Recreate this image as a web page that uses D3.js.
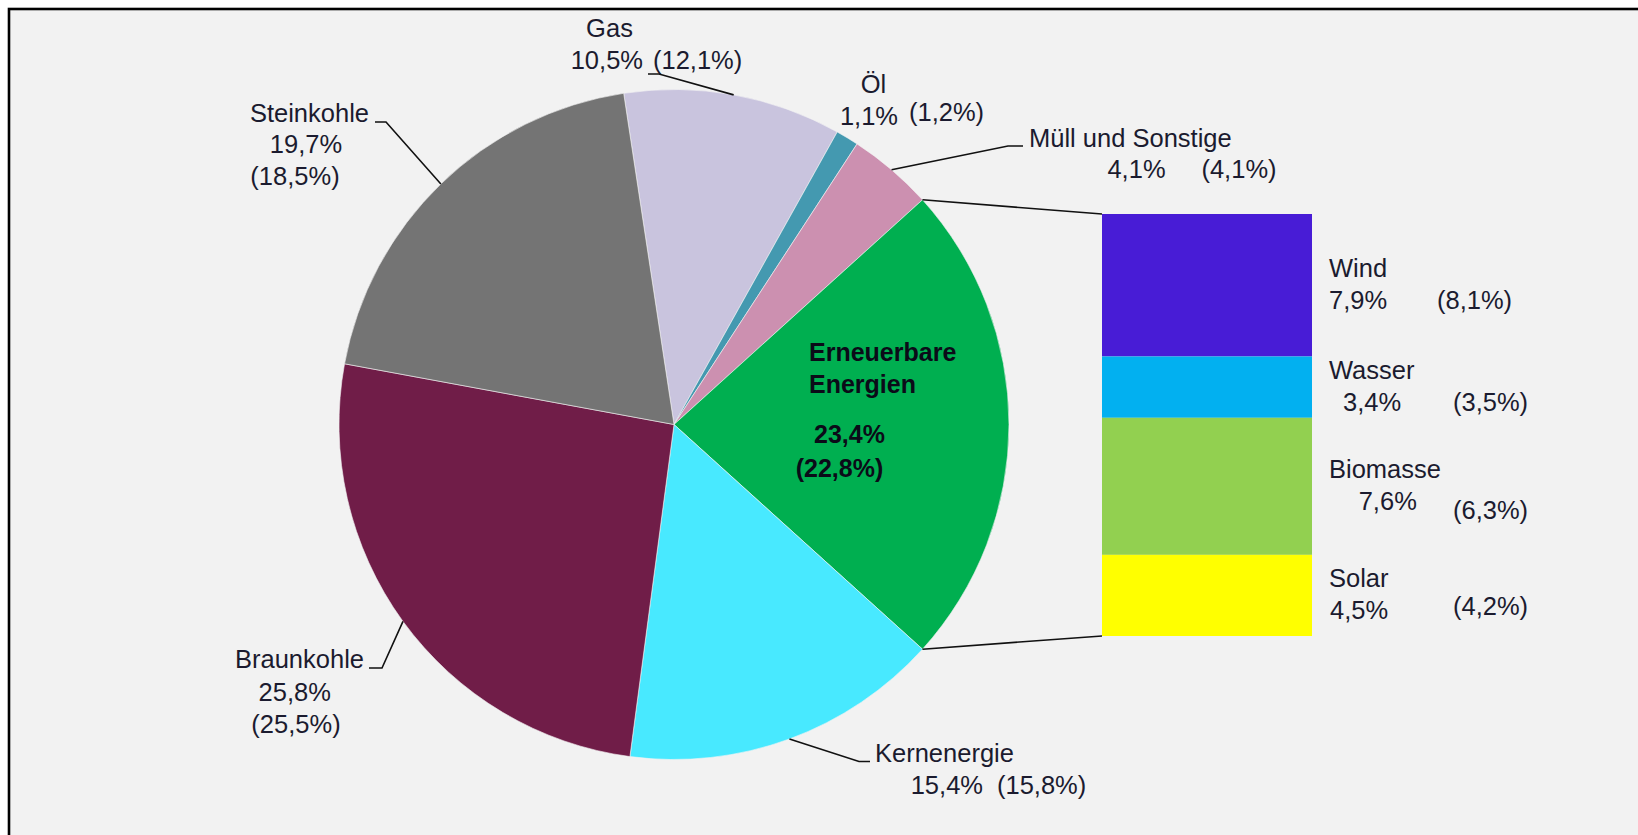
<!DOCTYPE html>
<html>
<head>
<meta charset="utf-8">
<script src="https://cdn.jsdelivr.net/npm/d3@7"></script>
<style>
  html, body { margin: 0; padding: 0; background: #ffffff; }
  svg { display: block; }
  text { font-family: "Liberation Sans", Arial, sans-serif; fill: #1b1b2f; }
</style>
</head>
<body>
<svg id="chart" width="1638" height="835"></svg>
<script>
// ---------------- DATA ----------------
const categories = ["Gas", "Öl", "Müll und Sonstige", "Erneuerbare Energien", "Kernenergie", "Braunkohle", "Steinkohle"];
const shares     = [10.5, 1.1, 4.1, 23.4, 15.4, 25.8, 19.7];
const prevShares = [12.1, 1.2, 4.1, 22.8, 15.8, 25.5, 18.5];
const sliceColors = ["#C9C4DE", "#4499B0", "#CC90B0", "#00AF50", "#48E9FF", "#701D48", "#747474"];

const renewables      = ["Wind", "Wasser", "Biomasse", "Solar"];
const renewShares     = [7.9, 3.4, 7.6, 4.5];
const renewPrevShares = [8.1, 3.5, 6.3, 4.2];
const renewColors     = ["#481CD6", "#02B0F0", "#92D050", "#FFFF00"];

const fmt = v => d3.format(".1f")(v).replace(".", ",") + "%";

// ---------------- LAYOUT ----------------
const W = 1638, H = 835;
const cx = 674, cy = 424.5, R = 335;
const barX0 = 1102, barX1 = 1312, barY0 = 214, barY1 = 636;
const FS = 25.5;

const svg = d3.select("#chart");

// frame
svg.append("rect").attr("x", 9).attr("y", 9).attr("width", W + 20).attr("height", H + 20)
  .attr("fill", "#F2F2F2").attr("stroke", "#000").attr("stroke-width", 2.6);

// pie
const expIdx = categories.indexOf("Erneuerbare Energien");
const total = d3.sum(shares);
const before = d3.sum(shares.slice(0, expIdx)) + shares[expIdx] / 2;
const startAngle = Math.PI / 2 - 2 * Math.PI * before / total;

const pie = d3.pie().sort(null).value(d => d).startAngle(startAngle).endAngle(startAngle + 2 * Math.PI);
const arcs = pie(shares);
const arc = d3.arc().innerRadius(0).outerRadius(R);

const g = svg.append("g").attr("transform", `translate(${cx},${cy})`);
g.selectAll("path").data(arcs).join("path")
  .attr("d", arc)
  .attr("fill", (d, i) => sliceColors[i])
  .attr("stroke", "#f4f4f4").attr("stroke-width", 0.6);

const polar = (a, r) => [cx + r * Math.sin(a), cy - r * Math.cos(a)];

// stacked renewables bar
const yBar = d3.scaleLinear().domain([0, d3.sum(renewShares)]).range([barY0, barY1]);
const stack = [];
let acc = 0;
renewShares.forEach((v, i) => { stack.push({ i, y0: acc, y1: acc + v }); acc += v; });

svg.append("g").selectAll("rect").data(stack).join("rect")
  .attr("x", barX0).attr("width", barX1 - barX0)
  .attr("y", d => yBar(d.y0)).attr("height", d => yBar(d.y1) - yBar(d.y0))
  .attr("fill", d => renewColors[d.i]);

// connector lines from pie to bar
const ea = arcs[expIdx];
const pTop = polar(ea.startAngle, R), pBot = polar(ea.endAngle, R);
svg.append("line").attr("x1", pTop[0]).attr("y1", pTop[1]).attr("x2", barX0).attr("y2", yBar(0))
  .attr("stroke", "#111").attr("stroke-width", 1.6);
svg.append("line").attr("x1", pBot[0]).attr("y1", pBot[1]).attr("x2", barX0).attr("y2", yBar(d3.sum(renewShares)))
  .attr("stroke", "#111").attr("stroke-width", 1.6);

// ---------------- LABELS ----------------
// per category: name [x, y, anchor], current [x, y, anchor], previous [x, y, anchor], leader [elbowX, elbowY, endX]
const labelLayout = {
  "Steinkohle":  { name: [369, 122, "end"],   cur: [306, 153, "middle"], prev: [295, 185, "middle"], leader: [386, 122, 375] },
  "Gas":         { name: [609.5, 36.7, "middle"], cur: [643, 69, "end"], prev: [653, 69, "start"], leader: [659, 74, 648] },
  "Öl":          { name: [873.5, 92.7, "middle"], cur: [898, 125, "end"], prev: [909, 121, "start"] },
  "Müll und Sonstige": { name: [1029, 146.7, "start"], cur: [1136.5, 178, "middle"], prev: [1239, 178, "middle"], leader: [1008, 146, 1023] },
  "Kernenergie": { name: [875, 761.7, "start"], cur: [983, 794, "end"], prev: [997, 794, "start"], leader: [859, 761.5, 870] },
  "Braunkohle":  { name: [364, 668.3, "end"], cur: [294.7, 700.7, "middle"], prev: [296, 732.7, "middle"], leader: [382, 668, 369] }
};

const lbl = svg.append("g").attr("font-size", FS);
const addText = (sel, spec, str) => sel.append("text")
  .attr("x", spec[0]).attr("y", spec[1]).attr("text-anchor", spec[2]).text(str);

categories.forEach((c, i) => {
  const L = labelLayout[c];
  if (!L) return;
  addText(lbl, L.name, c);
  addText(lbl, L.cur, fmt(shares[i]));
  addText(lbl, L.prev, "(" + fmt(prevShares[i]) + ")");
  if (L.leader) {
    const a = (arcs[i].startAngle + arcs[i].endAngle) / 2;
    const p = polar(a, R);
    lbl.append("polyline")
      .attr("points", [p, [L.leader[0], L.leader[1]], [L.leader[2], L.leader[1]]].map(q => q.join(",")).join(" "))
      .attr("fill", "none").attr("stroke", "#111").attr("stroke-width", 1.6);
  }
});

// renewables label inside pie (bold)
const bold = svg.append("g").attr("font-size", 25).attr("font-weight", "bold");
bold.append("text").attr("x", 809).attr("y", 360.7).style("fill", "#0b0b18").text("Erneuerbare");
bold.append("text").attr("x", 809).attr("y", 392.7).style("fill", "#0b0b18").text("Energien");
bold.append("text").attr("x", 849.5).attr("y", 442.7).attr("text-anchor", "middle").style("fill", "#0b0b18").text(fmt(shares[expIdx]));
bold.append("text").attr("x", 839.5).attr("y", 476.7).attr("text-anchor", "middle").style("fill", "#0b0b18").text("(" + fmt(prevShares[expIdx]) + ")");

// bar segment labels
const renewLayout = {
  nameX: 1329,
  curX:  [1329, 1343, 1358.7, 1330],
  prevX: [1437, 1453, 1453, 1453],
  prevDy:[0, 0, 9, -4],
  nameDy: -8, curDy: 24
};
const rl = svg.append("g").attr("font-size", FS);
stack.forEach((d, k) => {
  const mid = (yBar(d.y0) + yBar(d.y1)) / 2;
  rl.append("text").attr("x", renewLayout.nameX).attr("y", mid + renewLayout.nameDy).text(renewables[k]);
  rl.append("text").attr("x", renewLayout.curX[k]).attr("y", mid + renewLayout.curDy).text(fmt(renewShares[k]));
  rl.append("text").attr("x", renewLayout.prevX[k]).attr("y", mid + renewLayout.curDy + renewLayout.prevDy[k])
    .text("(" + fmt(renewPrevShares[k]) + ")");
});
</script>
</body>
</html>
